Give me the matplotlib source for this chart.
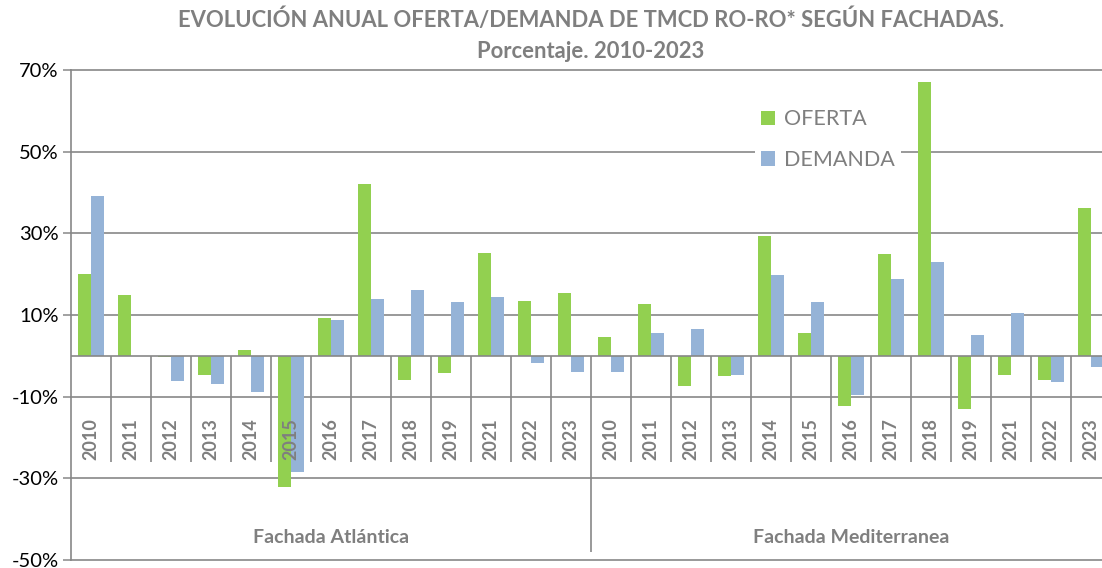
import matplotlib
matplotlib.use("Agg")
import matplotlib.pyplot as plt
from matplotlib.patches import Patch
import numpy as np

plt.rcParams['font.family'] = ['Lato', 'DejaVu Sans']

years = ["2010", "2011", "2012", "2013", "2014", "2015", "2016",
         "2017", "2018", "2019", "2021", "2022", "2023"]
groups = ["Fachada Atlántica", "Fachada Mediterranea"]

oferta_atl = [20.0, 14.9, -0.2, -4.7, 1.5, -32.1, 9.3, 42.0, -5.8, -4.1, 25.1, 13.4, 15.5]
demanda_atl = [39.2, 0.0, -6.1, -7.0, -8.8, -28.4, 8.8, 13.8, 16.2, 13.2, 14.5, -1.7, -3.9]
oferta_med = [4.5, 12.8, -7.4, -5.0, 29.3, 5.5, -12.3, 24.9, 67.0, -12.9, -4.6, -5.9, 36.2]
demanda_med = [-3.9, 5.5, 6.5, -4.8, 19.7, 13.2, -9.6, 18.8, 23.1, 5.2, 10.5, -6.4, -2.8]

yticks = [70, 50, 30, 10, -10, -30, -50]
ytick_labels = ["70%", "50%", "30%", "10%", "-10%", "-30%", "-50%"]

GREEN = "#92D050"
BLUE = "#95B3D7"
GRAY = "#7F7F7F"
GRID = "#878787"

W, H = 1102, 568
fig = plt.figure(figsize=(W / 100, H / 100), dpi=100)
left_px, right_px, top_px, bot_px = 71, 1111, 70, 560
ax = fig.add_axes([left_px / W, 1 - bot_px / H, (right_px - left_px) / W, (bot_px - top_px) / H])

oferta = oferta_atl + oferta_med
demanda = demanda_atl + demanda_med
labels = years + years
n = len(labels)
x = np.arange(n)
bw = 1 / 3
ax.bar(x + 0.5 - bw / 2, oferta, width=bw, color=GREEN, zorder=3, label="OFERTA")
ax.bar(x + 0.5 + bw / 2, demanda, width=bw, color=BLUE, zorder=3, label="DEMANDA")

ax.set_xlim(0, n)
ax.set_ylim(-50, 70)
ax.set_yticks(yticks)
ax.set_yticklabels(ytick_labels, fontsize=14.5, color="black")
ax.tick_params(axis='y', length=6, width=1.1, color=GRID, pad=3)
ax.tick_params(axis='x', bottom=False, labelbottom=False)
for y in yticks:
    ax.axhline(y, color=GRID, lw=1.2, zorder=1, clip_on=False)
ax.axhline(0, color=GRID, lw=1.2, zorder=4)
for s in ["top", "right", "bottom"]:
    ax.spines[s].set_visible(False)
ax.spines["left"].set_color(GRID)
ax.spines["left"].set_linewidth(1.2)

# category separators
for i in range(1, n + 1):
    if i == len(years):
        ax.vlines(i, -48.1, 0, color=GRID, lw=1.2, zorder=2)
    else:
        ax.vlines(i, -26.0, 0, color=GRID, lw=1.2, zorder=2)

for i, lab in enumerate(labels):
    ax.text(i + 0.5, -25.6, lab, rotation=90, ha="center", va="bottom",
            fontsize=13, fontweight="bold", color=GRAY, zorder=5)

m = len(years)
for g, name in enumerate(groups):
    ax.text(g * m + m / 2, -44.4, name, ha="center", va="center",
            fontsize=14, fontweight="bold", color=GRAY)

fig.text((left_px + right_px) / 2 / W, 1 - 20 / H,
         "EVOLUCIÓN ANUAL OFERTA/DEMANDA DE TMCD RO-RO* SEGÚN FACHADAS.",
         ha="center", va="center", fontsize=15.8, fontweight="bold", color=GRAY)
fig.text((left_px + right_px) / 2 / W, 1 - 52 / H,
         "Porcentaje. 2010-2023",
         ha="center", va="center", fontsize=15.8, fontweight="bold", color=GRAY)

handles = [Patch(facecolor=GREEN, edgecolor="none"), Patch(facecolor=BLUE, edgecolor="none")]
leg = fig.legend(handles, ["OFERTA", "DEMANDA"], loc="upper left",
                 bbox_to_anchor=(755 / W, 1 - 103 / H), frameon=True,
                 facecolor="white", edgecolor="none", framealpha=1,
                 fontsize=15.5, handlelength=0.65, handleheight=0.65,
                 handletextpad=0.4, labelspacing=0.95, borderpad=0.3, borderaxespad=0)
leg.set_zorder(10)
for t in leg.get_texts():
    t.set_color(GRAY)

fig.savefig("out.png", dpi=100)
